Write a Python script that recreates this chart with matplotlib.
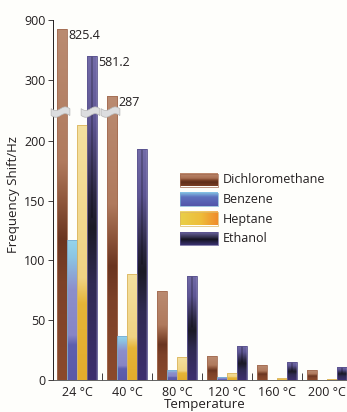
import numpy as np
import matplotlib
matplotlib.use("Agg")
import matplotlib.pyplot as plt
from matplotlib import transforms
from matplotlib.colors import to_rgb
from matplotlib.patches import Polygon, Rectangle
from matplotlib.ticker import FixedLocator, NullFormatter

plt.rcParams['font.family'] = ['Open Sans', 'DejaVu Sans']

# ---- data -------------------------------------------------------------
temperatures = ["24 °C", "40 °C", "80 °C", "120 °C", "160 °C", "200 °C"]
solvents = ["Dichloromethane", "Benzene", "Heptane", "Ethanol"]
dichloromethane = [825.4, 287, 74, 20, 12.5, 8]
benzene = [117, 37, 8.5, 2.2, 0.3, 0.3]
heptane = [213, 89, 19, 6, 1.4, 0.6]
ethanol = [581.2, 193, 87, 28.5, 15, 10.5]
y_ticks = [0, 50, 100, 150, 200, 300, 900]

# broken value axis: linear up to the break, compressed above it
break_value = 224
scale_values = [0, 225, 290, 300, 600, 900]
scale_positions = [0, 225, 238, 251, 272, 301]

# ---- styling ----------------------------------------------------------
ink = '#231f20'
gradients = {
    "Dichloromethane": [(0, '#ba8b71'), (0.38, '#b07a5d'), (0.5, '#8c5439'),
                        (0.6, '#6a3520'), (0.72, '#7c4128'), (1, '#8b4a2c')],
    "Benzene": [(0, '#95d5ed'), (0.12, '#8cc5e3'), (0.35, '#8c8fcc'),
                (0.68, '#8785c5'), (0.75, '#5d5fae'), (1, '#5a58a8')],
    "Heptane": [(0, '#f4e09f'), (0.6, '#f0d384'), (0.7, '#e6b538'),
                (1, '#e3ac2c')],
    "Ethanol": [(0, '#736ca8'), (0.2, '#5e5694'), (0.43, '#2b2742'),
                (0.53, '#1b1a26'), (0.7, '#2f2a52'), (1, '#3d2f6e')],
}
edges = {"Dichloromethane": '#a36c52', "Benzene": '#79aed4',
         "Heptane": '#dcb660', "Ethanol": '#5a528e'}
legend_gradients = {
    "Dichloromethane": [(0, '#be8c70'), (0.4, '#a86e52'), (0.55, '#7a4128'),
                        (0.7, '#5e2e1a'), (1, '#7a3e25')],
    "Benzene": [(0, '#86c6ea'), (0.35, '#5d70bd'), (1, '#5355aa')],
    "Ethanol": [(0, '#6a64a0'), (0.45, '#2a2840'), (0.55, '#141320'),
                (1, '#3a3270')],
}


def column(stops, n=256):
    fr = [s[0] for s in stops]
    cols = np.array([to_rgb(s[1]) for s in stops])
    t = np.linspace(0, 1, n)
    return np.stack([np.interp(t, fr, cols[:, k]) for k in range(3)], axis=-1)


def bar_image(name, n=256, m=12):
    img = np.repeat(column(gradients[name], n)[:, None, :], m, axis=1)
    if name == "Ethanol":
        rows = np.linspace(0, 1, n) < 0.5
        img[rows, 5:7, :] *= 0.72
        lav = np.array(to_rgb('#a49ed0'))
        img[:, [0, -1], :] = 0.7 * img[:, [0, -1], :] + 0.3 * lav
    return np.clip(img, 0, 1)


def forward(v):
    return np.interp(v, scale_values, scale_positions)


def inverse(t):
    return np.interp(t, scale_positions, scale_values)


# ---- figure -----------------------------------------------------------
W, H = 347, 412
fig = plt.figure(figsize=(W / 100, H / 100), dpi=100, facecolor='#fefefb')
ax_left, ax_right, ax_bottom, ax_top = 53, 347, 380, 20
ax = fig.add_axes([ax_left / W, (H - ax_bottom) / H,
                   (ax_right - ax_left) / W, (ax_bottom - ax_top) / H])
ax.set_facecolor('none')
ax.set_yscale('function', functions=(forward, inverse))

series = [dichloromethane, benzene, heptane, ethanol]
offsets = [-0.3, -0.1, 0.1, 0.3]
width = 0.2
x = np.arange(len(temperatures))

bar_sets = []
for name, vals, off in zip(solvents, series, offsets):
    bars = ax.bar(x + off, vals, width=width, facecolor='none',
                  edgecolor=edges[name], linewidth=0.6, zorder=3)
    bar_sets.append((name, bars))

ax.set_xlim(-0.48, 5.40)
ax.set_ylim(0, 900)

# gradient fills, laid out in axes space so the shading follows the bar
data_to_axes = ax.transData + ax.transAxes.inverted()
for name, bars in bar_sets:
    img = bar_image(name)
    for b in bars:
        x0, y0 = b.get_x(), 0
        x1, y1 = b.get_x() + b.get_width(), b.get_height()
        (ax0, ay0), (ax1, ay1) = data_to_axes.transform([[x0, y0], [x1, y1]])
        if ay1 - ay0 <= 0:
            continue
        im = ax.imshow(img, extent=(ax0, ax1, ay0, ay1), transform=ax.transAxes,
                       aspect='auto', interpolation='bilinear', zorder=2)
        im.set_clip_path(b)

ax.set_xlim(-0.48, 5.40)
ax.set_ylim(0, 900)

# value labels and break marks on bars that run past the break
u = np.linspace(-1, 1, 40)
half_w, half_t, amp = 0.094, 0.034, 0.018
centre = amp * np.sin(np.pi * u)
mark = np.concatenate([np.column_stack([u * half_w, centre + half_t]),
                       np.column_stack([u[::-1] * half_w, centre[::-1] - half_t])])
for name, bars in bar_sets:
    for b in bars:
        v = b.get_height()
        if v > break_value:
            xr = b.get_x() + b.get_width()
            ax.annotate(f"{v:g}", xy=(xr, v), xytext=(0.8, 0),
                        textcoords='offset points', ha='left', va='top',
                        fontsize=9, color=ink, zorder=6)
            xc = b.get_x() + b.get_width() / 2
            tr = fig.dpi_scale_trans + transforms.ScaledTranslation(
                xc, break_value, ax.transData)
            ax.add_patch(Polygon(mark + [-0.015, 0], closed=True, transform=tr,
                                 facecolor='#dcdddf', edgecolor='#b5b5b5',
                                 linewidth=0.5, zorder=5, clip_on=False))

# ---- axes styling -----------------------------------------------------
for s in ('top', 'right'):
    ax.spines[s].set_visible(False)
ax.spines['left'].set_color(ink)
ax.spines['left'].set_linewidth(0.7)
ax.spines['bottom'].set_color('#4a4a4a')
ax.spines['bottom'].set_linewidth(0.6)

ax.yaxis.set_major_locator(FixedLocator(y_ticks))
ax.set_yticklabels([str(t) for t in y_ticks])
ax.yaxis.set_minor_locator(FixedLocator([]))
ax.tick_params(axis='y', which='major', direction='out', length=3.5, width=0.6,
               color=ink, labelsize=9, labelcolor=ink, pad=2)

ax.set_xticks(x)
ax.set_xticklabels(temperatures)
ax.set_xticks(x[:-1] + 0.5, minor=True)
ax.xaxis.set_minor_formatter(NullFormatter())
ax.tick_params(axis='x', which='major', length=0, labelsize=9,
               labelcolor=ink, pad=4)
ax.tick_params(axis='x', which='minor', direction='in', length=5, width=0.6,
               color=ink)

ax.set_ylabel("Frequency Shift/Hz", fontsize=9.5, color=ink, va='center')
ax.yaxis.set_label_coords(-0.136, 0.514)
ax.set_xlabel("Temperature", fontsize=9.5, color=ink, va='center')
ax.xaxis.set_label_coords(0.517, -0.069)


# ---- legend -----------------------------------------------------------
def px_to_axes(px, py):
    return ax.transAxes.inverted().transform((px, H - py))


leg_x0, leg_w, leg_h, leg_text = 180, 38, 13, 223
leg_rows = [180, 199.5, 219, 238.5]
for name, yc in zip(solvents, leg_rows):
    (lx0, ly0) = px_to_axes(leg_x0, yc + leg_h / 2)
    (lx1, ly1) = px_to_axes(leg_x0 + leg_w, yc - leg_h / 2)
    if name == "Heptane":
        row = column([(0, '#e9cf48'), (0.55, '#eebd3a'), (1, '#f08c2c')], 64)
        img = np.repeat(row[None, :, :], 32, axis=0)
        img[:3] = 0.6 * img[:3] + 0.4 * np.array(to_rgb('#f8e7a0'))
    else:
        img = np.repeat(column(legend_gradients[name], 64)[:, None, :], 32, axis=1)
    ax.imshow(img, extent=(lx0, lx1, ly0, ly1), transform=ax.transAxes,
              aspect='auto', interpolation='bilinear', zorder=4, clip_on=False)
    ax.add_patch(Rectangle((lx0, ly0), lx1 - lx0, ly1 - ly0,
                           transform=ax.transAxes, facecolor='none',
                           edgecolor=edges[name], linewidth=0.5, zorder=4.5,
                           clip_on=False))
    tx, ty = px_to_axes(leg_text, yc)
    ax.text(tx, ty, name, transform=ax.transAxes, ha='left', va='center',
            fontsize=9, color=ink, zorder=6)

ax.set_xlim(-0.48, 5.40)
ax.set_ylim(0, 900)

fig.savefig("out.png", dpi=100, facecolor=fig.get_facecolor())
